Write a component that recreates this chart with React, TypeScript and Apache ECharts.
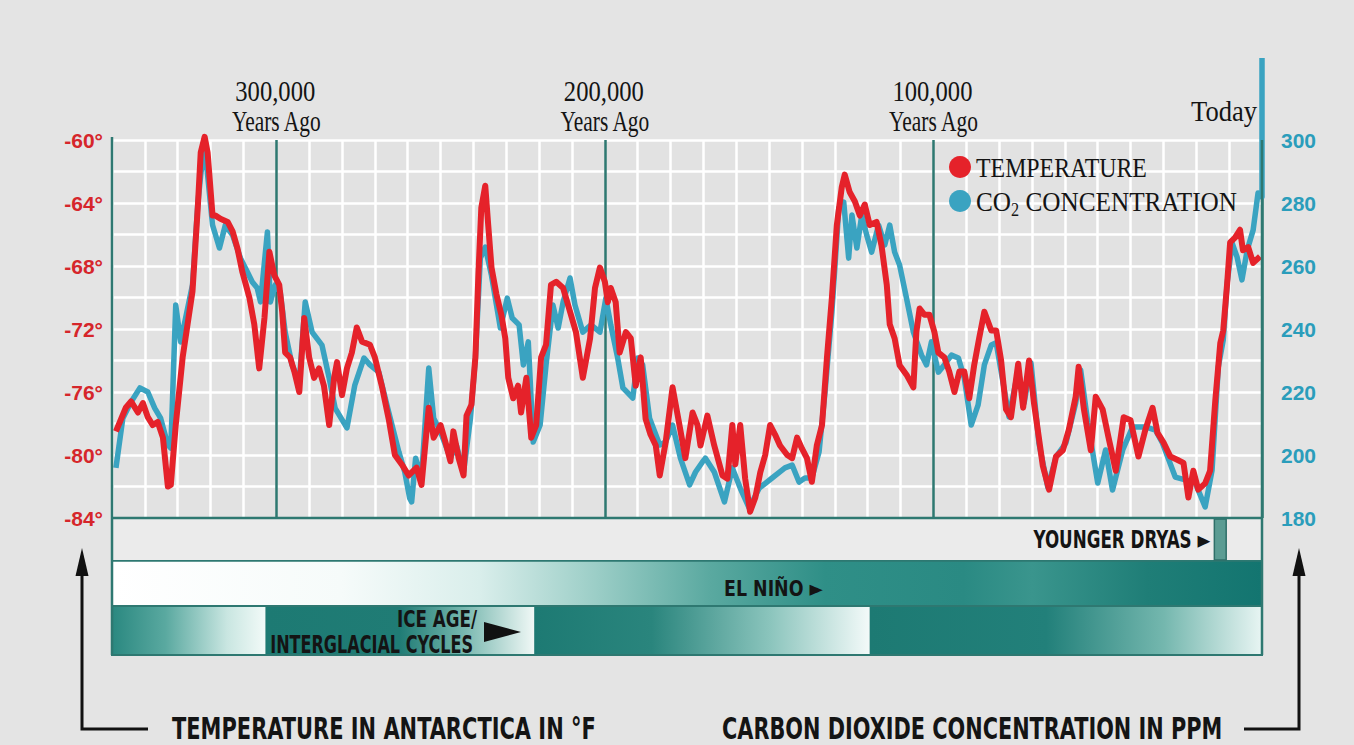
import React, { useEffect, useRef } from "react";
import * as echarts from "echarts";

// ---------- DATA (thousands of years ago, value) ----------
const tempYearsAgo = [
  348.8, 345.8, 344.2, 342.1, 340.6, 339.1, 337.6, 336.1, 334.5, 333.0,
  332.1, 330.6, 328.5, 327.0, 325.5, 323.9, 323.0, 321.8, 320.9, 319.4,
  318.5, 317.0, 314.8, 313.3, 311.8, 310.3, 308.2, 306.7, 305.2, 303.6,
  302.1, 300.6, 299.1, 298.2, 297.3, 295.8, 294.5, 293.0, 291.5, 290.0,
  288.5, 287.0, 285.5, 283.9, 282.4, 281.5, 280.0, 278.5, 277.0, 275.5,
  273.9, 271.5, 270.0, 267.9, 265.8, 263.9, 261.8, 259.7, 257.3, 255.8,
  253.6, 252.1, 250.0, 248.5, 247.0, 246.1, 244.5, 243.0, 242.1, 240.6,
  239.4, 238.5, 237.6, 236.4, 235.5, 234.5, 233.0, 231.5, 230.3, 229.4,
  227.9, 226.4, 225.5, 223.9, 222.4, 220.9, 219.4, 217.9, 216.4, 214.8,
  212.7, 210.6, 208.8, 206.7, 204.5, 203.0, 201.5, 200.0, 199.1, 198.2,
  196.7, 195.5, 193.6, 192.1, 190.6, 189.1, 187.6, 186.1, 184.5, 183.3,
  181.5, 179.4, 177.3, 175.5, 173.3, 171.8, 170.9, 168.8, 166.7, 164.2,
  162.7, 161.2, 160.3, 158.8, 157.3, 155.8, 154.2, 152.7, 151.2, 149.7,
  148.2, 146.7, 144.5, 143.0, 141.5, 140.0, 138.5, 137.0, 135.5, 133.9,
  132.4, 130.9, 129.4, 127.9, 127.0, 125.5, 123.9, 122.4, 120.9, 119.4,
  117.3, 115.8, 114.2, 113.3, 111.8, 110.3, 108.2, 106.1, 105.2, 104.2,
  102.7, 101.2, 99.7, 98.5, 96.7, 95.2, 93.6, 92.1, 90.6, 89.1,
  87.6, 86.1, 84.5, 82.4, 80.9, 79.4, 77.9, 76.4, 74.2, 72.7,
  70.9, 69.4, 66.7, 64.8, 62.7, 60.6, 58.8, 56.7, 55.8, 54.2,
  52.1, 50.6, 48.5, 46.7, 44.5, 42.1, 40.0, 37.6, 35.5, 33.3,
  31.8, 30.0, 27.9, 25.8, 23.9, 22.4, 20.9, 19.4, 17.3, 15.8,
  14.2, 12.7, 11.8, 10.6, 9.7, 8.2, 6.7, 5.8, 4.2, 2.7,
  0.6,
];
const temperatureF = [
  -78.5, -77.0, -76.6, -77.3, -76.7, -77.6, -78.1, -77.9, -78.9, -82.0,
  -81.9, -78.1, -73.8, -71.7, -69.6, -64.3, -60.8, -59.8, -60.8, -64.8,
  -64.8, -65.0, -65.2, -65.8, -66.9, -68.4, -70.0, -71.7, -74.5, -71.3,
  -67.1, -68.6, -69.2, -70.9, -73.5, -73.8, -74.7, -76.0, -71.3, -73.8,
  -75.1, -74.5, -75.6, -78.1, -75.1, -74.1, -76.2, -74.5, -73.5, -71.9,
  -72.8, -73.0, -73.8, -75.6, -77.7, -80.0, -80.6, -81.3, -80.8, -81.9,
  -77.0, -78.9, -78.1, -79.2, -80.4, -78.5, -80.2, -81.3, -77.5, -76.8,
  -73.8, -68.6, -64.3, -62.9, -65.4, -68.1, -69.8, -71.1, -72.6, -75.1,
  -76.4, -75.6, -77.3, -75.1, -78.9, -78.1, -73.8, -73.0, -69.2, -69.0,
  -69.4, -70.9, -72.2, -75.1, -72.6, -69.4, -68.1, -69.0, -70.3, -69.4,
  -70.3, -73.5, -72.2, -72.6, -75.6, -73.8, -77.7, -78.7, -79.4, -81.3,
  -79.2, -75.7, -78.1, -80.2, -77.3, -78.1, -79.4, -77.5, -79.4, -81.3,
  -81.5, -78.1, -80.6, -78.1, -81.5, -83.6, -82.7, -81.1, -80.0, -78.1,
  -78.7, -79.4, -80.0, -80.2, -78.9, -79.6, -80.2, -81.7, -79.4, -78.1,
  -73.8, -70.0, -65.4, -63.0, -62.2, -63.3, -63.9, -64.8, -64.1, -65.4,
  -65.2, -66.7, -69.2, -71.7, -72.6, -74.3, -74.9, -75.7, -72.2, -70.7,
  -71.1, -71.1, -72.2, -73.5, -73.8, -74.7, -76.0, -74.7, -74.7, -76.4,
  -74.3, -72.6, -70.9, -72.1, -72.1, -74.0, -77.1, -77.6, -74.2, -77.0,
  -74.0, -76.7, -80.7, -82.2, -80.1, -79.7, -78.4, -76.3, -74.4, -77.1,
  -79.7, -76.3, -77.1, -78.9, -81.0, -77.6, -77.8, -80.1, -78.4, -77.0,
  -78.6, -79.2, -80.1, -80.3, -80.5, -82.7, -81.0, -82.2, -81.8, -81.0,
  -76.5, -72.9, -72.1, -69.1, -66.5, -66.2, -65.7, -67.0, -66.8, -67.8,
  -67.4,
];

const co2YearsAgo = [
  348.8, 346.7, 344.2, 341.5, 339.1, 337.0, 335.2, 333.0, 332.1, 330.6,
  329.1, 327.6, 325.5, 323.9, 323.0, 321.8, 320.9, 319.4, 317.3, 315.5,
  313.3, 310.9, 308.8, 307.3, 305.8, 304.8, 302.7, 301.8, 300.3, 298.8,
  297.3, 295.2, 293.0, 291.2, 289.1, 286.1, 283.9, 282.1, 278.5, 276.1,
  273.3, 271.5, 268.8, 265.8, 262.7, 260.9, 259.4, 258.8, 257.6, 255.8,
  253.6, 252.1, 250.0, 247.0, 245.2, 243.0, 240.9, 239.4, 237.9, 236.4,
  234.5, 231.8, 229.7, 228.2, 226.1, 224.8, 223.3, 221.8, 219.7, 217.9,
  215.8, 214.2, 212.7, 210.6, 209.1, 206.7, 204.2, 201.5, 199.7, 198.2,
  196.1, 194.5, 191.5, 190.0, 188.5, 186.4, 183.3, 181.5, 179.4, 177.0,
  174.2, 172.4, 170.3, 169.4, 166.7, 163.6, 161.2, 158.8, 156.1, 153.0,
  149.1, 145.2, 143.0, 140.9, 139.1, 137.0, 134.8, 133.0, 130.9, 128.8,
  127.3, 125.8, 124.8, 123.3, 121.8, 120.3, 118.8, 116.7, 114.8, 113.3,
  111.8, 110.3, 108.2, 106.1, 103.6, 102.1, 100.6, 98.5, 96.7, 94.5,
  92.4, 90.6, 88.5, 86.4, 84.5, 82.4, 80.9, 78.8, 77.0, 74.2,
  72.4, 70.3, 67.9, 65.2, 62.7, 59.7, 56.7, 55.2, 53.0, 50.0,
  47.6, 45.5, 42.4, 39.4, 35.5, 32.4, 30.3, 26.4, 23.3, 20.3,
  17.3, 15.2, 13.3, 11.8, 10.6, 9.1, 7.6, 6.1, 4.5, 2.7,
  1.2, 0.0, 0.0,
];
const co2Ppm = [
  195.9, 211.7, 216.8, 221.3, 220.0, 214.9, 211.7, 203.2, 202.2, 247.6,
  235.9, 243.5, 254.0, 279.4, 288.9, 298.4, 288.9, 273.0, 265.7, 273.0,
  269.8, 262.5, 258.1, 254.9, 253.0, 248.6, 270.8, 248.6, 254.0, 251.7,
  239.0, 228.6, 223.2, 248.6, 239.0, 234.9, 224.4, 214.9, 208.6, 222.2,
  230.8, 228.6, 226.3, 213.7, 201.0, 194.6, 186.3, 185.1, 199.0, 192.7,
  227.6, 211.7, 207.3, 199.0, 203.2, 194.6, 211.7, 230.8, 262.5, 266.0,
  257.0, 240.3, 249.8, 243.5, 241.3, 228.6, 235.9, 204.1, 209.5, 228.6,
  247.6, 240.3, 248.6, 256.2, 247.6, 239.0, 241.3, 239.0, 249.8, 241.3,
  230.8, 221.3, 218.1, 230.8, 228.6, 211.7, 203.2, 204.1, 209.5, 199.0,
  190.5, 194.6, 197.8, 199.0, 194.6, 185.1, 195.9, 189.5, 183.2, 189.5,
  192.7, 195.9, 196.8, 191.4, 192.7, 192.7, 201.0, 220.0, 245.4, 278.4,
  280.3, 262.5, 276.2, 265.7, 276.2, 269.8, 264.4, 273.0, 266.7, 273.0,
  264.4, 260.3, 249.8, 239.0, 231.7, 228.6, 235.9, 226.3, 228.6, 231.7,
  230.8, 224.4, 209.5, 215.9, 228.6, 234.9, 235.6, 222.9, 212.1, 227.0,
  216.5, 229.2, 203.8, 189.8, 199.4, 203.8, 216.5, 227.0, 210.2, 191.1,
  201.6, 188.9, 201.6, 208.9, 208.9, 207.9, 203.8, 193.0, 192.1, 191.1,
  183.5, 195.2, 227.9, 236.5, 254.6, 267.3, 262.9, 255.6, 265.1, 271.4,
  283.2, 281.9, 326.0,
];

const majorTicksKya = [300, 200, 100];
const majorTickLabels = ["300,000", "200,000", "100,000"];
const todayLabel = "Today";
const youngerDryasKya = [14.5, 10.9];
const iceSegmentStartsKya = [350, 303.3, 221.5, 119.4, 0];

// ---------- STYLE ----------
const SERIF = "'Liberation Serif', 'Times New Roman', serif";
const COND = "'Liberation Sans Narrow', 'DejaVu Sans Condensed', 'Liberation Sans', Arial, sans-serif";
const SANS = "'Liberation Sans', Arial, sans-serif";
const TEAL_LINE = "#2e7871";
const RED = "#e5222a";
const BLUE = "#3aa3c1";
const BG = "#e4e4e4";

let measureCtx: CanvasRenderingContext2D | null = null;
function measure(text: string, size: number, family: string, weight: string) {
  if (!measureCtx) measureCtx = document.createElement("canvas").getContext("2d");
  measureCtx!.font = `${weight} ${size}px ${family}`;
  return measureCtx!.measureText(text).width;
}

function fitText(
  text: string, x: number, y: number, size: number, family: string, weight: string,
  width: number, align: string, color = "#141414", z = 30
) {
  const s = width / measure(text, size, family, weight);
  return {
    type: "text", x, y, scaleX: s, z, silent: true,
    style: {
      text, fontSize: size, fontFamily: family, fontWeight: weight, fill: color,
      align, textAlign: align, verticalAlign: "middle", textVerticalAlign: "middle",
    },
  };
}

function grad(stops: [number, string][]) {
  return new echarts.graphic.LinearGradient(0, 0, 1, 0, stops.map(([offset, color]) => ({ offset, color })));
}

export default function App() {
  const ref = useRef<HTMLDivElement>(null);
  useEffect(() => {
    const chart = echarts.init(ref.current!, null, { renderer: "svg" });
    const tempData = tempYearsAgo.map((k, i) => [k, temperatureF[i]]);
    const co2Data = co2YearsAgo.map((k, i) => [k, co2Ppm[i]]);
    const splitColors = [TEAL_LINE, "#ffffff", "#ffffff", "#ffffff", "#ffffff", "#ffffff", "#ffffff", "#ffffff", "#ffffff", "#ffffff"];

    chart.setOption({
      animation: false,
      backgroundColor: BG,
      grid: { left: 112, right: 92, top: 140, bottom: 227, show: true, backgroundColor: "#e2e2e2", borderWidth: 0 },
      xAxis: {
        type: "value", min: 0, max: 350, interval: 10, inverse: true,
        axisLine: { show: false }, axisTick: { show: false }, axisLabel: { show: false },
        splitLine: { show: true, lineStyle: { color: splitColors, width: 2.5 } },
      },
      yAxis: [
        {
          type: "value", min: -84, max: -60, interval: 2, position: "left",
          axisLine: { show: false }, axisTick: { show: false },
          splitLine: { show: true, lineStyle: { color: "#ffffff", width: 2.5 } },
          axisLabel: {
            formatter: (v: number) => (Math.round(v) % 4 === 0 ? `${Math.round(v)}°` : ""),
            color: "#d6262b", fontWeight: "bold", fontSize: 21, fontFamily: SANS, margin: 9,
          },
        },
        {
          type: "value", min: 180, max: 300, interval: 20, position: "right",
          axisLine: { show: false }, axisTick: { show: false }, splitLine: { show: false },
          axisLabel: { color: "#2a9dbb", fontWeight: "bold", fontSize: 21, fontFamily: SANS, margin: 19 },
        },
      ],
      series: [
        {
          type: "line", name: "CO2 CONCENTRATION", yAxisIndex: 1, data: co2Data,
          symbol: "none", clip: false, z: 3,
          lineStyle: { color: BLUE, width: 5.5, join: "round" },
        },
        {
          type: "line", name: "TEMPERATURE", yAxisIndex: 0, data: tempData,
          symbol: "none", clip: false, z: 4,
          lineStyle: { color: RED, width: 6, join: "round" },
        },
      ],
    });

    const px = (k: number) => chart.convertToPixel({ xAxisIndex: 0 }, k) as number;
    const py = (v: number) => chart.convertToPixel({ yAxisIndex: 0 }, v) as number;
    const L = px(350), R = px(0);
    const B = py(-84), T = py(-60);
    const ydBottom = B + 43, elBottom = ydBottom + 45, iceBottom = elBottom + 49;

    const g: any[] = [];
    // Younger Dryas row
    g.push({ type: "rect", z: 5, shape: { x: L, y: B, width: R - L, height: ydBottom - B }, style: { fill: "#ebebeb", stroke: TEAL_LINE, lineWidth: 2 } });
    g.push({ type: "rect", z: 6, shape: { x: px(youngerDryasKya[0]), y: B + 1, width: px(youngerDryasKya[1]) - px(youngerDryasKya[0]), height: ydBottom - B - 2 }, style: { fill: "#5b9c93", stroke: "#2f6f69", lineWidth: 1.5 } });
    // El Nino band
    g.push({
      type: "rect", z: 5, shape: { x: L, y: ydBottom, width: R - L, height: elBottom - ydBottom },
      style: {
        fill: grad([[0, "#ffffff"], [0.2, "#f6fbfa"], [0.32, "#d9eeeb"], [0.42, "#9ccec7"], [0.52, "#5aa9a0"], [0.62, "#2f8f87"], [0.74, "#2a8a83"], [0.8, "#3a958d"], [0.9, "#1f7e77"], [1, "#137570"]]),
        stroke: TEAL_LINE, lineWidth: 1.5,
      },
    });
    // Ice age segments
    const segStops: [number, string][][] = [
      [[0, "#2a8880"], [0.35, "#5aa9a0"], [0.75, "#c9e6e1"], [1, "#f2faf8"]],
      [[0, "#1d7a73"], [0.5, "#207c75"], [0.72, "#6fb3aa"], [1, "#f0f8f6"]],
      [[0, "#1d7a73"], [0.35, "#2a857d"], [0.7, "#8ac4bc"], [1, "#f3faf9"]],
      [[0, "#1d7a73"], [0.45, "#22807a"], [0.75, "#74b7ae"], [1, "#e8f5f3"]],
    ];
    for (let i = 0; i < 4; i++) {
      const x0 = px(iceSegmentStartsKya[i]), x1 = px(iceSegmentStartsKya[i + 1]);
      g.push({ type: "rect", z: 5, shape: { x: x0, y: elBottom, width: x1 - x0, height: iceBottom - elBottom }, style: { fill: grad(segStops[i]) } });
    }
    g.push({ type: "rect", z: 6, shape: { x: L, y: elBottom, width: R - L, height: iceBottom - elBottom }, style: { fill: "none", stroke: TEAL_LINE, lineWidth: 2 } });

    // plot borders
    g.push({ type: "line", z: 20, shape: { x1: L, y1: T - 3, x2: L, y2: iceBottom }, style: { stroke: TEAL_LINE, lineWidth: 2.5 } });
    g.push({ type: "line", z: 20, shape: { x1: R, y1: T, x2: R, y2: iceBottom }, style: { stroke: TEAL_LINE, lineWidth: 2.5 } });
    g.push({ type: "line", z: 20, shape: { x1: L, y1: B, x2: R, y2: B }, style: { stroke: TEAL_LINE, lineWidth: 2.5 } });

    // Top labels
    majorTicksKya.forEach((k, i) => {
      const cx = px(k);
      g.push(fitText(majorTickLabels[i], cx - 1, 91, 30, SERIF, "normal", 80, "center"));
      g.push(fitText("Years Ago", cx, 121, 30, SERIF, "normal", 90, "center"));
    });
    g.push(fitText(todayLabel, R - 5, 111, 30, SERIF, "normal", 66, "right"));

    // Legend
    g.push({ type: "circle", z: 30, shape: { cx: 960, cy: 167, r: 11 }, style: { fill: RED } });
    g.push({ type: "circle", z: 30, shape: { cx: 960, cy: 201, r: 11 }, style: { fill: BLUE } });
    g.push(fitText("TEMPERATURE", 976, 168, 28, SERIF, "normal", 171, "left"));
    {
      const mCO = measure("CO", 28, SERIF, "normal");
      const m2 = measure("2", 18, SERIF, "normal");
      const mRest = measure(" CONCENTRATION", 28, SERIF, "normal");
      const s = 261 / (mCO + m2 + mRest);
      const x0 = 976;
      g.push(fitText("CO", x0, 202, 28, SERIF, "normal", mCO * s, "left"));
      g.push(fitText("2", x0 + mCO * s, 210, 18, SERIF, "normal", m2 * s, "left"));
      g.push(fitText(" CONCENTRATION", x0 + (mCO + m2) * s, 202, 28, SERIF, "normal", mRest * s, "left"));
    }

    // Band labels
    g.push(fitText("YOUNGER DRYAS ►", px(youngerDryasKya[0]) - 4, 540, 24, COND, "bold", 177, "right"));
    g.push(fitText("EL NIÑO ►", 724, 589, 22, COND, "bold", 99, "left"));
    g.push(fitText("ICE AGE/", 477, 619, 23, COND, "bold", 80, "right"));
    g.push(fitText("INTERGLACIAL CYCLES", 473, 644, 24, COND, "bold", 203, "right"));
    g.push({ type: "polygon", z: 30, shape: { points: [[484, 622], [521, 632], [484, 642]] }, style: { fill: "#111" } });

    // Bottom axis titles with arrows
    g.push({ type: "polyline", z: 30, shape: { points: [[148, 729], [82, 729], [82, 570]] }, style: { stroke: "#111", lineWidth: 3, fill: "none" } });
    g.push({ type: "polygon", z: 30, shape: { points: [[82, 548], [75.5, 576], [88.5, 576]] }, style: { fill: "#111" } });
    g.push({ type: "polyline", z: 30, shape: { points: [[1244, 729], [1299, 729], [1299, 570]] }, style: { stroke: "#111", lineWidth: 3, fill: "none" } });
    g.push({ type: "polygon", z: 30, shape: { points: [[1299, 548], [1292.5, 576], [1305.5, 576]] }, style: { fill: "#111" } });
    g.push(fitText("TEMPERATURE IN ANTARCTICA IN °F", 172, 728, 31, COND, "bold", 424, "left"));
    g.push(fitText("CARBON DIOXIDE CONCENTRATION IN PPM", 722, 728, 31, COND, "bold", 500, "left"));

    chart.setOption({ graphic: g });
    return () => chart.dispose();
  }, []);
  return <div ref={ref} style={{ position: "fixed", left: 0, top: 0, width: 1354, height: 745 }} />;
}
